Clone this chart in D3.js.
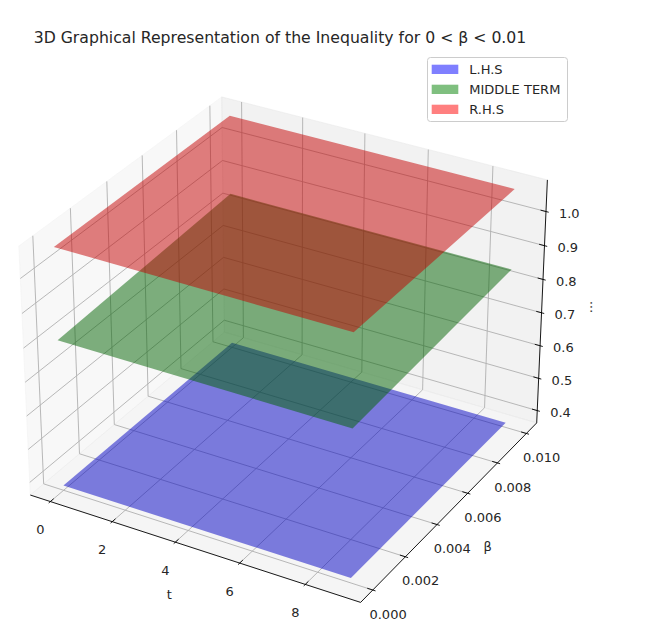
<!DOCTYPE html>
<html>
<head>
<meta charset="utf-8">
<script src="https://cdnjs.cloudflare.com/ajax/libs/d3/7.8.5/d3.min.js"></script>
<style>
  body { margin: 0; background: #fff; }
  svg { display: block; }
  text { font-family: "DejaVu Sans", "Liberation Sans", sans-serif; fill: #262626; }
</style>
</head>
<body>
<svg id="chart" width="646" height="636"></svg>
<script>
// ---------------- data ----------------
const titleText = "3D Graphical Representation of the Inequality for 0 < β < 0.01";
const tNodes = [0, 9];            // t extent of the surfaces
const betaNodes = [0, 0.01];      // β extent of the surfaces
const seriesNames = ["L.H.S", "MIDDLE TERM", "R.H.S"];
const seriesColors = ["blue", "green", "red"];
// surface heights at betaNodes (flat in t)
const lhsZ = [0.376, 0.376];
const middleZ = [0.810, 0.842];
const rhsZ = [1.077, 1.077];
const tTicks = [0, 2, 4, 6, 8];
const betaTicks = [0, 0.002, 0.004, 0.006, 0.008, 0.010];
const zTicks = [0.4, 0.5, 0.6, 0.7, 0.8, 0.9, 1.0];
const axisLabels = ["t", "β", "..."];

// ---------------- camera (elev 30, azim -60, perspective) ----------------
const svg = d3.select("#chart");
const elev = 30, azim = -60, dist = 10;
const aspect = [4, 4, 3];
const an = Math.hypot(...aspect);
const pb = aspect.map(d => d * 1.8294640721620434 / an);
const half = pb.map(d => d / 2);
const rad = Math.PI / 180;
const dot = (a, b) => a[0]*b[0] + a[1]*b[1] + a[2]*b[2];
const cross = (a, b) => [a[1]*b[2]-a[2]*b[1], a[2]*b[0]-a[0]*b[2], a[0]*b[1]-a[1]*b[0]];
const unit = a => { const n = Math.hypot(...a); return a.map(d => d / n); };
const W = [Math.cos(elev*rad)*Math.cos(azim*rad), Math.cos(elev*rad)*Math.sin(azim*rad), Math.sin(elev*rad)];
const U = unit(cross([0, 0, 1], W));
const V = cross(W, U);
const S = 3312, CX = 288, CY = 338;

function withMargin(ext, m) { const r = ext[1] - ext[0]; return [ext[0] - m*r, ext[1] + m*r]; }
function boxOf(lim) { const d = (lim[1] - lim[0]) / 48; return [lim[0] - d, lim[1] + d]; }
const tLim = withMargin(d3.extent(tNodes), 0.05);
const bLim = withMargin(d3.extent(betaNodes), 0.05);
const zLim = d3.extent([...lhsZ, ...middleZ, ...rhsZ]);
const xs = d3.scaleLinear().domain(boxOf(tLim)).range([-half[0], half[0]]);
const ys = d3.scaleLinear().domain(boxOf(bLim)).range([-half[1], half[1]]);
const zs = d3.scaleLinear().domain(boxOf(zLim)).range([-half[2], half[2]]);
const dT = (tLim[1]-tLim[0]) / 12, dB = (bLim[1]-bLim[0]) / 12;

function P(t, b, z) {
  const q = [xs(t), ys(b), zs(z)];
  const den = dist - dot(W, q);
  return [CX + S * dot(U, q) / den, CY - S * dot(V, q) / den];
}
const poly = pts => "M" + pts.map(p => P(...p).map(v => v.toFixed(2)).join(",")).join("L") + "Z";
const seg = (a, b) => "M" + P(...a).join(",") + "L" + P(...b).join(",");

const [t0, t1] = xs.domain(), [b0, b1] = ys.domain(), [z0, z1] = zs.domain();

// ---------------- panes ----------------
const panes = [
  { pts: [[t0,b0,z0],[t0,b1,z0],[t0,b1,z1],[t0,b0,z1]], c: "rgba(242,242,242,0.5)" },
  { pts: [[t0,b1,z0],[t1,b1,z0],[t1,b1,z1],[t0,b1,z1]], c: "rgba(230,230,230,0.5)" },
  { pts: [[t0,b0,z0],[t1,b0,z0],[t1,b1,z0],[t0,b1,z0]], c: "rgba(236,236,236,0.5)" }
];
svg.append("g").selectAll("path").data(panes).join("path")
  .attr("d", d => poly(d.pts)).attr("fill", d => d.c).attr("stroke", d => d.c).attr("stroke-width", 1);

// ---------------- grid ----------------
const grid = [];
tTicks.forEach(t => { grid.push([[t,b0,z0],[t,b1,z0]]); grid.push([[t,b1,z0],[t,b1,z1]]); });
betaTicks.forEach(b => { grid.push([[t0,b,z0],[t1,b,z0]]); grid.push([[t0,b,z0],[t0,b,z1]]); });
zTicks.forEach(z => { grid.push([[t0,b0,z],[t0,b1,z]]); grid.push([[t0,b1,z],[t1,b1,z]]); });
svg.append("g").selectAll("path").data(grid).join("path")
  .attr("d", d => seg(d[0], d[1])).attr("stroke", "#b0b0b0").attr("stroke-width", 0.9).attr("fill", "none");

// ---------------- axes ----------------
const axG = svg.append("g");
[[[t0,b0,z0],[t1,b0,z0]], [[t1,b0,z0],[t1,b1,z0]], [[t1,b1,z0],[t1,b1,z1]]].forEach(l => {
  axG.append("path").attr("d", seg(l[0], l[1])).attr("stroke", "#000").attr("stroke-width", 0.9);
});
const fs = 13;
// t ticks
tTicks.forEach(t => {
  axG.append("path").attr("d", seg([t, b0 - 0.1*dB, z0], [t, b0 + 0.2*dB, z0])).attr("stroke", "#000").attr("stroke-width", 0.9);
  const p = P(t, b0, z0);
  axG.append("text").attr("x", p[0] - 10).attr("y", p[1] + 28).attr("text-anchor", "middle")
    .attr("dominant-baseline", "central").attr("font-size", fs).text(d3.format("d")(t));
});
betaTicks.forEach(b => {
  axG.append("path").attr("d", seg([t1 + 0.1*dT, b, z0], [t1 - 0.2*dT, b, z0])).attr("stroke", "#000").attr("stroke-width", 0.9);
  const p = P(t1, b, z0);
  axG.append("text").attr("x", p[0] + 15.3).attr("y", p[1] + 24.2).attr("text-anchor", "middle")
    .attr("dominant-baseline", "central").attr("font-size", fs).text(d3.format(".3f")(b));
});
zTicks.forEach(z => {
  axG.append("path").attr("d", seg([t1 + 0.1*dT, b1, z], [t1 - 0.2*dT, b1, z])).attr("stroke", "#000").attr("stroke-width", 0.9);
  const p = P(t1, b1, z);
  axG.append("text").attr("x", p[0] + 23.3).attr("y", p[1] + 2).attr("text-anchor", "middle")
    .attr("dominant-baseline", "central").attr("font-size", fs).text(d3.format(".1f")(z));
});
const tMid = P((tLim[0]+tLim[1])/2, b0, z0);
const bMid = P(t1, (bLim[0]+bLim[1])/2, z0);
const zMid = P(t1, b1, (zLim[0]+zLim[1])/2);
axG.append("text").attr("x", tMid[0] - 22).attr("y", tMid[1] + 47).attr("text-anchor", "middle")
  .attr("dominant-baseline", "central").attr("font-size", fs).text(axisLabels[0]);
axG.append("text").attr("x", bMid[0] + 35.3).attr("y", bMid[1] + 37.2).attr("text-anchor", "middle")
  .attr("dominant-baseline", "central").attr("font-size", fs).text(axisLabels[1]);
axG.append("text").attr("transform", `translate(${zMid[0] + 46},${zMid[1] + 3}) rotate(-90)`)
  .attr("text-anchor", "middle").attr("dominant-baseline", "central").attr("font-size", fs).text(axisLabels[2]);

// ---------------- surfaces ----------------
const light = (() => { const a = (90 - 225) * rad, al = 19.4712 * rad;
  return [Math.cos(a)*Math.cos(al), Math.sin(a)*Math.cos(al), Math.sin(al)]; })();
const shade = 0.3 + 0.7 * ((dot([0,0,1], light) + 1) / 2);
const surfaces = [lhsZ, middleZ, rhsZ].map((Z, i) => ({
  name: seriesNames[i],
  color: seriesColors[i],
  pts: [[tNodes[0], betaNodes[0], Z[0]], [tNodes[1], betaNodes[0], Z[0]],
        [tNodes[1], betaNodes[1], Z[1]], [tNodes[0], betaNodes[1], Z[1]]]
}));
const shaded = c => { const r = d3.rgb(c); return d3.rgb(r.r*shade, r.g*shade, r.b*shade).toString(); };
svg.append("g").selectAll("path").data(surfaces).join("path")
  .attr("d", d => poly(d.pts)).attr("fill", d => shaded(d.color)).attr("fill-opacity", 0.5);

// ---------------- legend ----------------
const lg = svg.append("g");
lg.append("rect").attr("x", 427.5).attr("y", 57.5).attr("width", 140).attr("height", 64).attr("rx", 3)
  .attr("fill", "rgba(255,255,255,0.8)").attr("stroke", "#cccccc").attr("stroke-width", 1);
const rowY = d3.scalePoint().domain(seriesNames).range([69.3, 109.3]);
seriesNames.forEach((n, i) => {
  lg.append("rect").attr("x", 431.7).attr("y", rowY(n) - 4.6).attr("width", 26.6).attr("height", 9.3)
    .attr("fill", seriesColors[i]).attr("fill-opacity", 0.5);
  lg.append("text").attr("x", 469.3).attr("y", rowY(n)).attr("dominant-baseline", "central")
    .attr("font-size", fs).text(n);
});

// ---------------- title ----------------
svg.append("text").attr("x", 280).attr("y", 43).attr("text-anchor", "middle").attr("font-size", 15.7).text(titleText);
</script>
</body>
</html>
